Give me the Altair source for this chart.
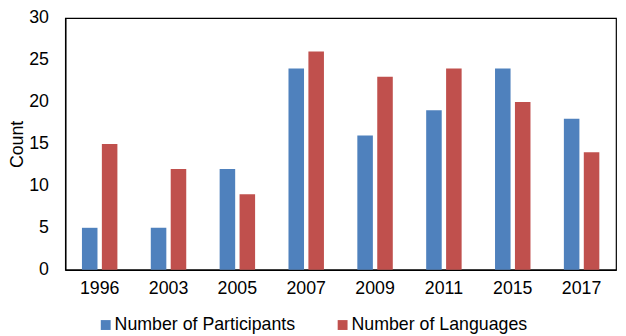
import altair as alt
import pandas as pd

years = ["1996", "2003", "2005", "2007", "2009", "2011", "2015", "2017"]
participants = [5, 5, 12, 24, 16, 19, 24, 18]
languages = [15, 12, 9, 26, 23, 24, 20, 14]
series = ["Number of Participants", "Number of Languages"]
colors = ["#4F81BD", "#C0504D"]

rows = []
for y, p, l in zip(years, participants, languages):
    rows.append({"Year": y, "Series": series[0], "Count": p})
    rows.append({"Year": y, "Series": series[1], "Count": l})
df = pd.DataFrame(rows)

FONT = "Liberation Sans"

chart = alt.Chart(df).mark_bar().encode(
    x=alt.X("Year:N", sort=years,
            scale=alt.Scale(paddingInner=0.485, paddingOuter=0.2425),
            axis=alt.Axis(title=None, labelAngle=0, ticks=False, tickSize=0,
                          labelPadding=10, labelFontSize=18, labelFont=FONT,
                          labelColor="black", domainColor="black", domainWidth=1.5)),
    xOffset=alt.XOffset("Series:N", sort=series,
                        scale=alt.Scale(paddingInner=0.22, paddingOuter=0)),
    y=alt.Y("Count:Q",
            scale=alt.Scale(domain=[0, 30]),
            axis=alt.Axis(title="Count", values=[0, 5, 10, 15, 20, 25, 30],
                          grid=False, ticks=False, tickSize=0, labelPadding=17,
                          labelFontSize=18, labelFont=FONT, labelColor="black",
                          titleFontSize=18, titleFont=FONT, titleFontWeight="normal",
                          titleColor="black", titlePadding=2,
                          domainColor="black", domainWidth=1.5)),
    color=alt.Color("Series:N", sort=series,
                    scale=alt.Scale(domain=series, range=colors),
                    legend=alt.Legend(title=None, orient="none", legendX=32, legendY=302,
                                      direction="horizontal", symbolType="square",
                                      symbolSize=100, symbolStrokeWidth=0,
                                      labelFontSize=18, labelFont=FONT, labelLimit=400,
                                      labelColor="black", labelOffset=0,
                                      columnPadding=38, padding=0)),
).properties(
    width=558,
    height=255,
    autosize=alt.AutoSizeParams(type="none"),
    padding={"left": 58, "top": 8, "right": 2, "bottom": 70},
).configure_view(stroke="black", strokeWidth=1.2)

chart.save("out.html", embed_options={"renderer": "svg", "actions": False})
